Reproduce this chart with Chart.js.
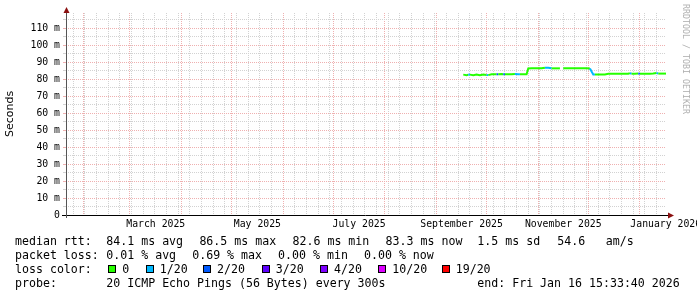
<!DOCTYPE html>
<html><head><meta charset="utf-8">
<script src="https://cdn.jsdelivr.net/npm/chart.js@4.4.1/dist/chart.umd.min.js"></script>
<style>
html,body{margin:0;padding:0;background:#fff;width:697px;height:297px;overflow:hidden}
#wrap{position:relative;width:697px;height:297px;overflow:hidden}
#c{position:absolute;left:0;top:0}
.t{position:absolute;font-family:'DejaVu Sans Mono',monospace;font-size:11.6px;line-height:14px;white-space:pre;color:#000}
.box{position:absolute;width:6px;height:6px;border:1px solid #000}
#wm{position:absolute;left:691px;top:4px;transform:rotate(90deg);transform-origin:0 0;font-family:'DejaVu Sans Mono',monospace;font-size:8.3px;line-height:10px;color:#b0b0b0;white-space:pre}
</style></head><body>
<div id="wrap"><canvas id="c" width="697" height="297"></canvas><div id="wm">RRDTOOL / TOBI OETIKER</div><div id="legend"></div></div>
<script>
// ---------- data ----------
const rttDates = ['2025-09-17','2025-09-19','2025-09-20','2025-09-21','2025-09-23','2025-09-25','2025-09-27','2025-09-29',
 '2025-10-01','2025-10-02','2025-10-04','2025-10-06','2025-10-07','2025-10-08','2025-10-10','2025-10-11','2025-10-12',
 '2025-10-14','2025-10-16','2025-10-18','2025-10-20','2025-10-21','2025-10-23','2025-10-25','2025-10-26','2025-10-28',
 '2025-10-30','2025-11-01','2025-11-03','2025-11-05','2025-11-07','2025-11-09','2025-11-11','2025-11-13','2025-11-14',
 '2025-11-15','2025-11-16','2025-11-18','2025-11-20','2025-11-22','2025-11-24','2025-11-26','2025-11-28','2025-11-30',
 '2025-12-02','2025-12-03','2025-12-04','2025-12-05','2025-12-07','2025-12-09','2025-12-11','2025-12-13','2025-12-15',
 '2025-12-17','2025-12-19','2025-12-21','2025-12-23','2025-12-25','2025-12-26','2025-12-27','2025-12-29','2025-12-31',
 '2026-01-01','2026-01-03','2026-01-05','2026-01-07','2026-01-09','2026-01-11','2026-01-12','2026-01-14','2026-01-16T15:30'];
const rttMedian = [82.7,82.4,82.6,82.7,82.4,82.7,82.4,82.7,
 82.5,82.4,82.9,82.9,82.9,82.9,83.0,82.9,82.9,
 82.9,82.9,83.0,82.9,82.9,82.9,82.9,86.3,86.4,
 86.4,86.4,86.4,86.8,86.7,86.4,86.4,86.4,86.4,
 null,86.4,86.4,86.4,86.4,86.5,86.4,86.4,86.4,
 86.3,84.5,82.8,82.8,82.8,82.8,82.8,83.2,83.2,
 83.2,83.2,83.2,83.2,83.2,83.6,83.2,83.2,83.4,
 83.2,83.2,83.2,83.2,83.3,83.7,83.3,83.3,83.3];
const rttLoss = [0,0,1,0,0,0,0,0,
 1,0,0,0,2,0,0,2,0,
 0,0,1,1,0,0,0,0,0,
 0,0,0,1,1,0,0,0,0,
 0,0,0,0,0,0,0,0,0,
 1,1,1,0,0,0,0,0,0,
 0,0,0,0,0,1,0,0,2,
 0,0,0,0,0,1,0,0,0];
const lossLevels = [0,1,2,3,4,10,19];
const lossLabels = ['0','1/20','2/20','3/20','4/20','10/20','19/20'];
const lossColors = ['#26ff00','#00b8ff','#0059ff','#5e00ff','#7e00ff','#dd00ff','#ff0000'];
const yTickValues = [0,10,20,30,40,50,60,70,80,90,100,110];
const yTickLabels = ['0','10 m','20 m','30 m','40 m','50 m','60 m','70 m','80 m','90 m','100 m','110 m'];
const xLabelMonths = ['2025-03','2025-05','2025-07','2025-09','2025-11','2026-01'];
const xLabels = ['March 2025','May 2025','July 2025','September 2025','November 2025','January 2026'];
const statRtt = ['84.1 ms avg','86.5 ms max','82.6 ms min','83.3 ms now','1.5 ms sd','54.6','am/s'];
const statLoss = ['0.01 % avg','0.69 % max','0.00 % min','0.00 % now'];
const probeText = '20 ICMP Echo Pings (56 Bytes) every 300s';
const endText = 'end: Fri Jan 16 15:33:40 2026';
const yTitle = 'Seconds';

// ---------- time range ----------
const DAY = 86400000;
const END = Date.UTC(2026,0,16,15,33,40);
const START = END - 360*DAY;
const toMs = d => Date.parse(d.length === 10 ? d + 'T00:00:00Z' : d + 'Z');

function lossColor(l){ let k = 0; lossLevels.forEach((v,i)=>{ if (l >= v) k = i; }); return lossColors[k]; }

const MINOR = '#d2d2d2', MAJOR = '#efb0b0';
const monoTick = {family:"'DejaVu Sans Mono', monospace", size:9.8};

const axesPlugin = {
  id:'axes',
  afterDraw(chart){
    const {ctx, chartArea:a} = chart;
    ctx.save();
    ctx.strokeStyle = '#000'; ctx.lineWidth = 1;
    ctx.beginPath(); ctx.moveTo(a.left-4, a.bottom+0.5); ctx.lineTo(a.right+3, a.bottom+0.5); ctx.stroke();
    ctx.strokeStyle = '#555';
    ctx.beginPath(); ctx.moveTo(a.left+0.5, a.bottom+3); ctx.lineTo(a.left+0.5, a.top-1); ctx.stroke();
    ctx.fillStyle = '#8b1010';
    ctx.beginPath(); ctx.moveTo(a.right+8, a.bottom+0.5); ctx.lineTo(a.right+2, a.bottom-2.5); ctx.lineTo(a.right+2, a.bottom+3.5); ctx.closePath(); ctx.fill();
    ctx.beginPath(); ctx.moveTo(a.left+0.5, a.top-6); ctx.lineTo(a.left-2.5, a.top); ctx.lineTo(a.left+3.5, a.top); ctx.closePath(); ctx.fill();
    ctx.restore();
  }
};

new Chart(document.getElementById('c'), {
  type:'line',
  data:{ datasets:[{
    data: rttDates.map((d,i)=>({x:toMs(d), y:rttMedian[i]})),
    borderColor: lossColors[0], borderWidth:2, pointRadius:0, tension:0, spanGaps:false,
    borderCapStyle:'butt',
    segment:{ borderColor: c => lossColor(rttLoss[c.p0DataIndex]) },
    xAxisID:'x', yAxisID:'y'
  }]},
  options:{
    responsive:false, animation:false, parsing:false,
    layout:{ padding:{left:0, right:31, top:13, bottom:62} },
    plugins:{ legend:{display:false}, tooltip:{enabled:false} },
    scales:{
      x:{
        type:'linear', min:START, max:END, position:'bottom', weight:0,
        afterBuildTicks(s){
          const t = [];
          const months = [];
          for (let y=2025, m=1; Date.UTC(y,m,1) <= END; ){ months.push(Date.UTC(y,m,1)); m++; if (m>11){m=0;y++;} }
          for (let w = Date.UTC(2025,0,26); w <= END; w += 7*DAY){ if (!months.includes(w)) t.push({value:w, kind:'minor'}); }
          months.forEach(v => t.push({value:v, kind:'major'}));
          t.sort((p,q)=>p.value-q.value);
          s.ticks = t;
        },
        afterFit(s){ s.height = 0; s.paddingLeft = 0; s.paddingRight = 0; },
        ticks:{ display:false, autoSkip:false },
        grid:{ drawTicks:false, lineWidth:1, color: c => (c.tick && c.tick.kind === 'major') ? MAJOR : MINOR },
        border:{ display:false, dash:[1,1] }
      },
      x2:{
        type:'linear', min:START, max:END, position:'bottom', weight:1,
        afterBuildTicks(s){
          s.ticks = xLabelMonths.map(m => {
            const [y, mo] = m.split('-').map(Number);
            const a = Date.UTC(y, mo-1, 1), b = Date.UTC(y, mo, 1);
            return {value:(a+b)/2};
          });
        },
        afterFit(s){ s.height = 20; s.paddingLeft = 0; s.paddingRight = 0; },
        ticks:{ autoSkip:false, maxRotation:0, minRotation:0, padding:4, color:'#000', font:monoTick,
          callback:(v,i) => xLabels[i] },
        grid:{ display:false, drawTicks:false },
        border:{ display:false }
      },
      y:{
        type:'linear', min:0, max:119, position:'left',
        afterBuildTicks(s){ const t=[]; for (let v=0; v<=115; v+=5) t.push({value:v}); s.ticks = t; },
        afterFit(s){ s.width = 66; s.paddingTop = 0; s.paddingBottom = 0; },
        ticks:{ autoSkip:false, padding:3, color:'#000', font:monoTick,
          callback:(v) => { const k = yTickValues.indexOf(v); return k >= 0 ? yTickLabels[k] : ''; } },
        grid:{ drawTicks:true, tickLength:3, lineWidth:1, color: c => (c.tick && c.tick.value % 10 === 0) ? MAJOR : MINOR },
        border:{ display:false, dash:[1,1] },
        title:{ display:true, text:yTitle, color:'#000', font:{family:"'DejaVu Sans', sans-serif", size:11}, padding:{top:4,bottom:4} }
      }
    }
  },
  plugins:[axesPlugin]
});

// ---------- legend (text below chart) ----------
const L = document.getElementById('legend');
function put(x, y, txt){ const s = document.createElement('div'); s.className='t'; s.style.left=(x-1)+'px'; s.style.top=y+'px'; s.textContent=txt; L.appendChild(s); }
const r1 = [107.3,200.4,293.5,386.6,478.3,558.3,606.7];
put(16, 234, 'median rtt:'); statRtt.forEach((t,i)=>put(r1[i],234,t));
const r2 = [107.3,193.2,279.1,365];
put(16, 248, 'packet loss:'); statLoss.forEach((t,i)=>put(r2[i],248,t));
const bx = [108.3,145.7,203,261.7,320,378.3,441.7];
put(16, 262, 'loss color:');
lossLabels.forEach((t,i)=>{
  const b = document.createElement('div'); b.className='box'; b.style.left=bx[i]+'px'; b.style.top='265px'; b.style.background=lossColors[i]; L.appendChild(b);
  put(bx[i]+15, 262, t);
});
put(16, 275.5, 'probe:'); put(107.3, 275.5, probeText); put(478.3, 275.5, endText);
</script>
</body></html>
